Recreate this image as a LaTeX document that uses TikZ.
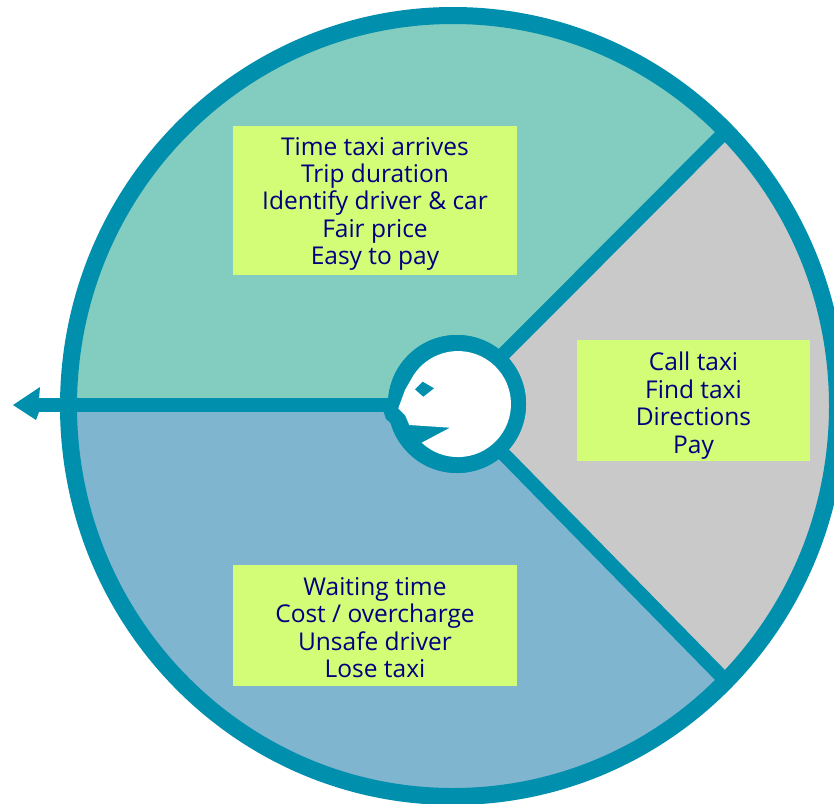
\documentclass[tikz,border=0pt]{standalone}
\usepackage{fontspec}
\setmainfont{Open Sans}
\definecolor{ringteal}{HTML}{0090AE}
\definecolor{segteal}{HTML}{82CCC0}
\definecolor{segblue}{HTML}{7FB5CF}
\definecolor{seggray}{HTML}{C9C9C9}
\definecolor{boxlime}{HTML}{D3FC77}
\definecolor{inknavy}{HTML}{000080}
\newcommand{\toppad}[1]{\rule{0pt}{#1pt}}
\tikzset{
  notebox/.style={fill=boxlime,text=inknavy,align=center,inner sep=0pt,
    font=\fontsize{24.5}{27.4}\selectfont},
  spoke/.style={draw=ringteal,line width=14pt},
}
\begin{document}
\begin{tikzpicture}[x=1pt,y=1pt,yscale=-1]
\useasboundingbox (0,0) rectangle (834,803);
\clip (0,0) rectangle (834,803);
\fill[white] (0,0) rectangle (834,803);
% sectors
\begin{scope}
  \clip (453,406) ellipse [x radius=384.5pt,y radius=390.5pt];
  \fill[seggray] (457,406) -- (900,-100) -- (900,900) -- cycle;
  \fill[segteal] (0,405) -- (457,405) -- (506,352) -- (900,-45) -- (900,-100) -- (0,-100) -- cycle;
  \fill[segblue] (0,405) -- (457,405) -- (504,455) -- (900,858) -- (900,900) -- (0,900) -- cycle;
\end{scope}
\coordinate (rimA) at (722,135);
\coordinate (rimB) at (722,677);
\coordinate (tail) at (38,405);
\node[circle,fill=ringteal,minimum size=138pt,inner sep=0pt] (hub) at (457,404) {};
\draw[spoke,shorten <=-5pt] (hub.47) -- (rimA);
\draw[spoke,shorten <=-5pt] (hub.-47) -- (rimB);
\draw[spoke] (hub.west |- tail) ++(8,0) -- (tail);
\fill[ringteal] (13,405) -- (40,387) -- (39,399) -- (39,412) -- (36,420) -- cycle;
% rim
\draw[draw=ringteal,line width=17pt] (453,406) ellipse [x radius=384.5pt,y radius=390.5pt];
% hub redrawn on top of the shaft
\node[circle,fill=ringteal,minimum size=138pt,inner sep=0pt] at (hub.center) {};
% chin
\fill[ringteal] (400,400) -- (383,410) -- (386,419) -- (393,425) -- (397,433) -- (400,438) -- (406,446) -- (430,440) -- cycle;
% face
\fill[white] (421.7,442.7) arc[start angle=133.2,end angle=-147,radius=53pt]
  -- (405,390) -- (398.3,408.3) -- (405,415) -- (409.3,425) -- (450,427.7) -- cycle;
\fill[ringteal] (415,389.3) -- (422.7,381.7) -- (434,388.3) -- (423.3,396.7) -- cycle;
% notes
\node[notebox,minimum width=284pt,minimum height=149pt] (n1) at (375,200.5)
  {\toppad{24.5}Time taxi arrives\\Trip duration\\Identify driver \& car\\Fair price\\Easy to pay};
\node[notebox,minimum width=233pt,minimum height=121pt] (n2) at (693.5,400.5)
  {\toppad{28.7}Call taxi\\Find taxi\\Directions\\Pay};
\node[notebox,minimum width=284pt,minimum height=121pt] (n3) at (375,625.5)
  {\toppad{22.5}Waiting time\\Cost / overcharge\\Unsafe driver\\Lose taxi};
\end{tikzpicture}
\end{document}
